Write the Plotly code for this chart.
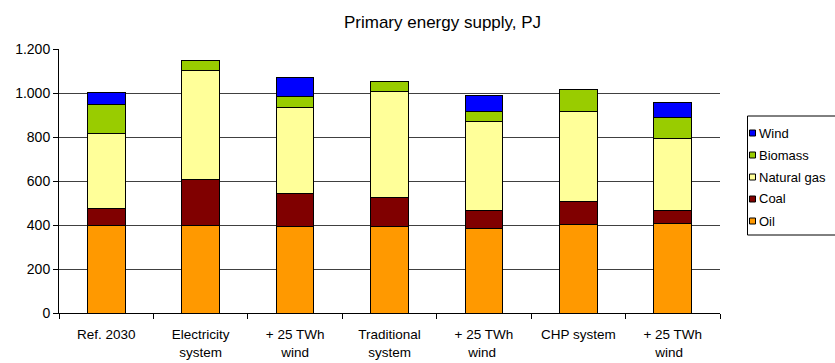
import plotly.graph_objects as go

categories = ["Ref. 2030", "Electricity<br>system", "+ 25 TWh<br>wind", "Traditional<br>system",
              "+ 25 TWh<br>wind ", "CHP system", "+ 25 TWh<br>wind  "]
oil = [400, 397, 391, 391, 386, 404, 409]
coal = [75, 210, 151, 133, 79, 103, 56]
natural_gas = [343, 494, 391, 482, 405, 408, 327]
biomass = [130, 46, 49, 45, 44, 99, 97]
wind = [55, 0, 87, 0, 74, 0, 70]

series = [
    ("Oil", oil, "#FF9900"),
    ("Coal", coal, "#800000"),
    ("Natural gas", natural_gas, "#FFFF99"),
    ("Biomass", biomass, "#99CC00"),
    ("Wind", wind, "#0000FF"),
]

FONT = "Liberation Sans, Arial, sans-serif"
W, H = 835, 363
ML, MR, MT, MB = 59, 115, 49, 50
PW, PH = W - ML - MR, H - MT - MB


def px_x(px):
    return (px - ML) / PW


def px_y(py):
    return (H - MB - py) / PH


fig = go.Figure()
for name, vals, color in series:
    fig.add_trace(go.Bar(
        x=categories, y=vals, name=name, showlegend=False,
        marker=dict(color=color, line=dict(color="black", width=1)),
    ))

# legend box with small swatches, top entry = last stacked series
shapes = [dict(type="rect", xref="paper", yref="paper",
               x0=px_x(747.5), x1=px_x(842), y0=px_y(235), y1=px_y(116),
               line=dict(color="black", width=1), fillcolor="white", layer="above")]
annotations = []
for i, (name, vals, color) in enumerate(reversed(series)):
    cy = 133 + i * 22
    shapes.append(dict(type="rect", xref="paper", yref="paper",
                       x0=px_x(749.5), x1=px_x(755.5), y0=px_y(cy + 3), y1=px_y(cy - 3),
                       line=dict(color="black", width=1), fillcolor=color, layer="above"))
    annotations.append(dict(text=name, xref="paper", yref="paper", x=px_x(756.5), y=px_y(cy),
                            xanchor="left", yanchor="middle", showarrow=False,
                            font=dict(family=FONT, size=13, color="black")))

fig.update_layout(
    width=W, height=H,
    barmode="stack", bargap=0.6, showlegend=False,
    paper_bgcolor="white", plot_bgcolor="white",
    margin=dict(l=ML, r=MR, t=MT, b=MB, autoexpand=False),
    font=dict(family=FONT, size=13, color="black"),
    separators=",.",
    title=dict(text="Primary energy supply, PJ", x=0.53, xanchor="center", y=0.94, yanchor="middle",
               font=dict(family=FONT, size=17, color="black")),
    shapes=shapes, annotations=annotations,
    xaxis=dict(showline=True, linecolor="black", linewidth=1, ticks="outside", ticklen=5,
               tickcolor="black", tickson="boundaries", showgrid=False, tickfont=dict(size=13.5),
               ticklabelstandoff=9),
    yaxis=dict(range=[0, 1200], dtick=200, tickformat=",d", showline=True, linecolor="black",
               linewidth=1, ticks="outside", ticklen=5, tickcolor="black",
               showgrid=True, gridcolor="#404040", gridwidth=1, zeroline=False, tickfont=dict(size=14)),
)

fig.write_html("out.html")
